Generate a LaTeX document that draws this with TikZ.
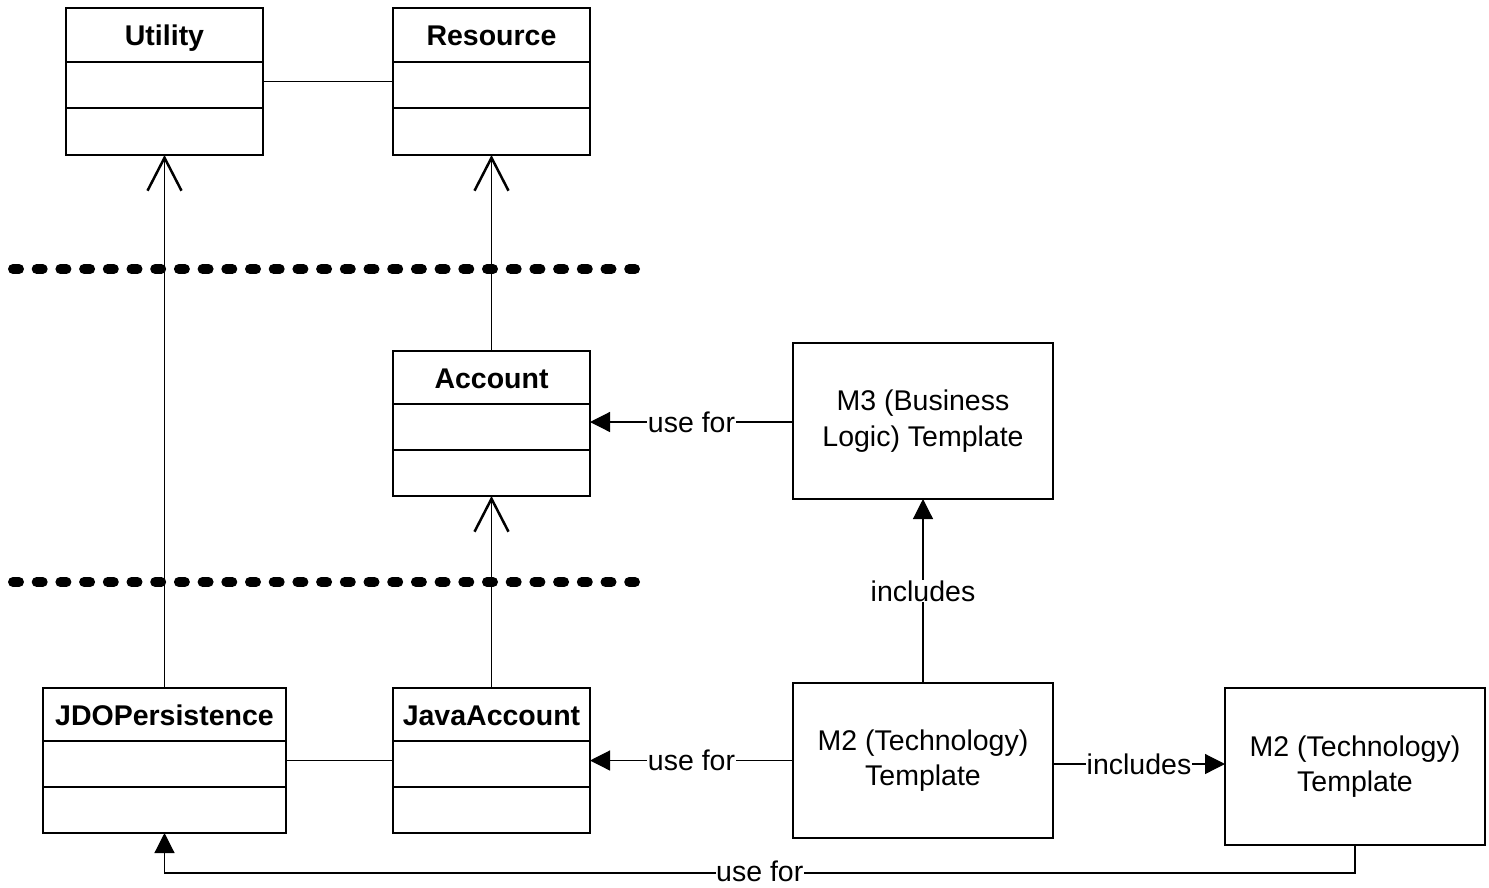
\documentclass[tikz,border=0pt]{standalone}
\usepackage{fontspec}
\setmainfont{Liberation Sans}
\usetikzlibrary{arrows.meta}

\tikzset{
  classbox/.style={draw, line width=2.5pt, inner sep=0pt, outer sep=0pt},
  classline/.style={line width=2.5pt},
  classtitle/.style={font=\fontsize{28.5}{34}\selectfont\bfseries, inner sep=0pt, anchor=base},
  tplbox/.style={draw, line width=1.3pt, inner sep=0pt, outer sep=0pt,
    minimum width=260pt, align=center, font=\fontsize{28.5}{35.5}\selectfont},
  conn/.style={line width=1.2pt},
  inherit/.style={conn, -{Straight Barb[length=33pt, width=34pt, line width=2.5pt]}},
  usearrow/.style={conn, -{Triangle[length=20pt, width=20pt]}},
  lbl/.style={fill=white, inner sep=1pt, font=\fontsize{28.5}{34}\selectfont},
  layerline/.style={line width=10pt, line cap=round, dash pattern=on 6pt off 17.7pt},
}

% class box: name, centre x, centre y, width, height, title, divider offsets
\newcommand\umlclass[8]{%
  \node[classbox, minimum width=#4pt, minimum height=#5pt] (#1) at (#2,#3) {};
  \draw[classline] ([yshift=-#7pt]#1.north west) -- ([yshift=-#7pt]#1.north east);
  \draw[classline] ([yshift=-#8pt]#1.north west) -- ([yshift=-#8pt]#1.north east);
  \node[classtitle] (#1-title) at ([yshift=-37.5pt]#1.north) {#6};
}

\begin{document}
\begin{tikzpicture}[x=1pt, y=-1pt]
\useasboundingbox (0,0) rectangle (1489,887);

% classes
\umlclass{util}{164.5}{81.5}{197}{147}{Utility}{54}{100}
\umlclass{res}{491.5}{81.5}{197}{147}{Resource}{54}{100}
\umlclass{acct}{491.5}{423.5}{197}{145}{Account}{53}{99}
\umlclass{jdo}{164.5}{760.5}{243}{145}{JDOPersistence}{53}{99}
\umlclass{java}{491.5}{760.5}{197}{145}{JavaAccount}{53}{99}

% layer separators
\draw[layerline] (13,269) -- (635,269);
\draw[layerline] (13,582) -- (635,582);

% templates
\node[tplbox, minimum height=156pt] (m3) at (923,421) {M3 (Business\\Logic) Template};
\node[tplbox, minimum height=155pt] (m2) at (923,760.5) {M2 (Technology)\\Template};
\node[tplbox, minimum height=157pt] (m2r) at (1355,766.5) {M2 (Technology)\\Template};

% associations and generalisations
\draw[conn] (util.east) -- (res.west);
\draw[conn] (jdo.east) -- (java.west);
\draw[inherit] (jdo.north) -- (util.south);
\draw[inherit] (acct.north) -- (res.south);
\draw[inherit] (java.north) -- (acct.south);

% template relations
\draw[usearrow] (m3.west |- 0,422) -- node[lbl]{use for} (acct.east |- 0,422);
\draw[usearrow] (m2.north) -- node[lbl]{includes} (m2.north |- m3.south);
\draw[usearrow] (m2.west) -- node[lbl]{use for} (m2.west -| java.east);
\draw[usearrow] (m2.east |- 0,764) -- node[lbl]{includes} (m2r.west |- 0,764);
\coordinate (low) at (m2r.south |- 0,873);
\draw[usearrow] (m2r.south) -- (low) -- node[lbl, inner sep=0.5pt, yshift=2pt]{use for} (low -| jdo.south) -- (jdo.south);
\end{tikzpicture}
\end{document}
